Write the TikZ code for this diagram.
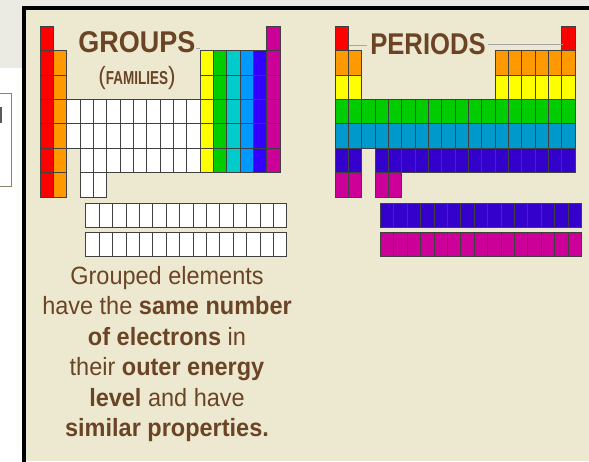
\documentclass[tikz,border=0pt]{standalone}
\usepackage{fontspec}
\usepackage{pdfrender}
\setmainfont{Liberation Sans}
\newfontfamily\bodyfont{Liberation Sans}[FakeStretch=0.94]
\newfontfamily\titlefont{Liberation Sans}[FakeStretch=0.9]
\definecolor{bgbeige}{HTML}{EDE9D0}
\definecolor{bggray}{HTML}{EBEAE3}
\definecolor{txtbrown}{HTML}{6B4426}
\definecolor{boxbrown}{HTML}{8A826E}
\definecolor{cred}{HTML}{FF0000}
\definecolor{corange}{HTML}{FF9900}
\definecolor{cyellow}{HTML}{FFFF00}
\definecolor{cgreen}{HTML}{00CC00}
\definecolor{ccyan}{HTML}{00CCCC}
\definecolor{cblue}{HTML}{0099FF}
\definecolor{cviolet}{HTML}{3300FF}
\definecolor{cmagenta}{HTML}{CC0099}
\definecolor{cteal}{HTML}{0099CC}
\definecolor{cindigo}{HTML}{3300CC}
\newcommand\heavy[1]{\textpdfrender{TextRenderingMode=FillStroke,LineWidth=0.6pt,StrokeColor=txtbrown,FillColor=txtbrown}{#1}}
\tikzset{
  cellst/.style={draw=black!75, line width=0.7pt},
  shadowline/.style={draw=black!35, line width=0.8pt},
  bodytext/.style={text=txtbrown, anchor=base, inner sep=0pt, font=\bodyfont\fontsize{25}{28}\selectfont},
  titletext/.style={text=txtbrown, anchor=base, inner sep=0pt, font=\titlefont\fontsize{30}{32}\selectfont\bfseries}
}
\newcommand\tcell[4]{\draw[cellst, fill=#4] ({#1+(#2-1)*13.333},{26+(#3-1)*24.43}) rectangle ++(13.333,24.43);}
\newcommand\lcell[4]{\draw[cellst, fill=#4] ({#1+#2*13.4},#3) rectangle ++(13.4,24.3);}
\begin{document}
\begin{tikzpicture}[x=1pt,y=-1pt]
\useasboundingbox (0,0) rectangle (589,461);
% backgrounds
\fill[white] (0,0) rectangle (589,461);
\fill[bggray] (0,0) rectangle (589,8);
\fill[bggray] (0,0) rectangle (22,68);
\fill[bgbeige] (24,8) rectangle (589,461);
\draw[black, line width=4pt] (24,470) -- (24,8) -- (600,8);
% small partial box at the left
\draw[boxbrown, line width=1.6pt] (-3,93.5) rectangle (11.5,186.5);
\fill[black!65] (0,107) rectangle (1.8,123);
% ---------------- GROUPS table ----------------
\foreach \r in {1,...,7} {\tcell{40}{1}{\r}{cred}}
\foreach \r in {2,...,7} {\tcell{40}{2}{\r}{corange}}
\foreach \c in {3,...,12} {\tcell{40}{\c}{4}{white}\tcell{40}{\c}{5}{white}}
\foreach \c in {4,...,12} {\tcell{40}{\c}{6}{white}}
\foreach \c in {4,5} {\tcell{40}{\c}{7}{white}}
\foreach \c/\col in {13/cyellow,14/cgreen,15/ccyan,16/cblue,17/cviolet}
  {\foreach \r in {2,...,6} {\tcell{40}{\c}{\r}{\col}}}
\foreach \r in {1,...,6} {\tcell{40}{18}{\r}{cmagenta}}
\foreach \c in {0,...,14} {\lcell{85.8}{\c}{203}{white}\lcell{85.8}{\c}{232.5}{white}}
\draw[shadowline] (196,48.5) -- (200,48.5);
\node[titletext] (groups) at (137,52.5) {GROUPS};
\node[text=txtbrown, anchor=base, inner sep=0pt] (families) at (137,84.5)
  {\titlefont\fontsize{25}{26}\selectfont(\scalebox{1}[1.25]{\fontsize{15}{18}\selectfont\bfseries FAMILIES})};
% ---------------- PERIODS table ----------------
\foreach \c in {1,18} {\tcell{335}{\c}{1}{cred}}
\foreach \c in {1,2,13,14,15,16,17,18} {\tcell{335}{\c}{2}{corange}\tcell{335}{\c}{3}{cyellow}}
\foreach \c in {1,...,18} {\tcell{335}{\c}{4}{cgreen}\tcell{335}{\c}{5}{cteal}}
\foreach \c in {1,2,4,5,6,7,8,9,10,11,12,13,14,15,16,17,18} {\tcell{335}{\c}{6}{cindigo}}
\foreach \c in {1,2,4,5} {\tcell{335}{\c}{7}{cmagenta}}
\foreach \c in {0,...,14} {\lcell{380.3}{\c}{203}{cindigo}\lcell{380.3}{\c}{232.5}{cmagenta}}
\draw[shadowline] (348.5,45) -- (367,45);
\draw[shadowline] (488,44.5) -- (563,44.5);
\node[titletext, xscale=0.95] (periods) at (428,54) {PERIODS};
% ---------------- explanatory text ----------------
\node[bodytext] (t1) at (167,284) {\heavy{Grouped elements}};
\node[bodytext] (t2) at (167,314.5) {\heavy{have the \textbf{same number}}};
\node[bodytext] (t3) at (167,345) {\heavy{\textbf{of electrons} in}};
\node[bodytext] (t4) at (167,375.5) {\heavy{their \textbf{outer energy}}};
\node[bodytext] (t5) at (167,406) {\heavy{\textbf{level} and have}};
\node[bodytext] (t6) at (167,436.5) {\heavy{\textbf{similar properties.}}};
\end{tikzpicture}
\end{document}
